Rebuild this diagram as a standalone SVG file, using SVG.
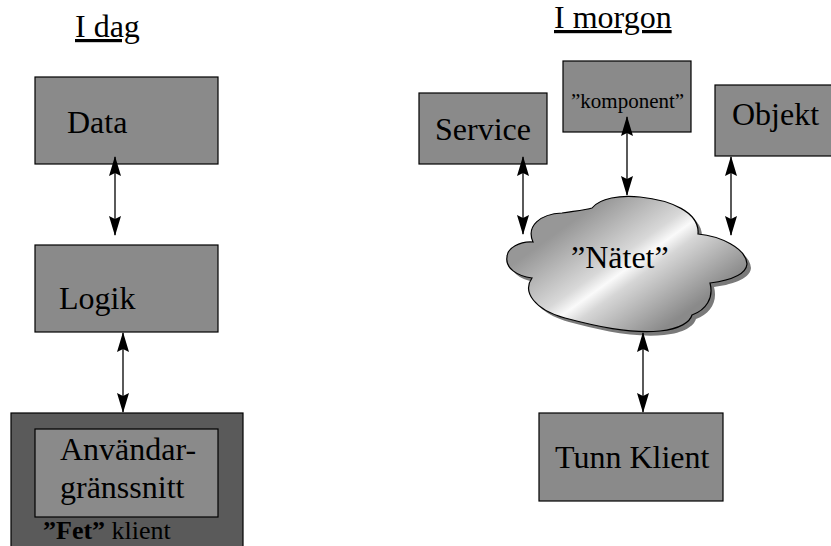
<svg xmlns="http://www.w3.org/2000/svg" width="831" height="546" viewBox="0 0 831 546">
  <defs>
    <style>
      .box { fill: #8a8a8a; stroke: #000; stroke-width: 1.2; }
      .dark { fill: #5a5a5a; stroke: #000; stroke-width: 1.2; }
      .t { font-family: 'Liberation Serif', Tinos, 'DejaVu Serif', serif; font-size: 32px; fill: #000; }
      .conn { stroke: #000; stroke-width: 1.3; fill: none; marker-start: url(#ah); marker-end: url(#ah); }
    </style>
    <marker id="ah" viewBox="0 0 20 12" refX="19" refY="6" markerWidth="20" markerHeight="12" markerUnits="userSpaceOnUse" orient="auto-start-reverse">
      <path d="M0,0 L20,6 L0,12 L3,6 Z" fill="#000"/>
    </marker>
    <linearGradient id="cg" gradientUnits="userSpaceOnUse" x1="584" y1="213" x2="666" y2="327">
      <stop offset="0" stop-color="#979797"/>
      <stop offset="0.4" stop-color="#d8d8d8"/>
      <stop offset="0.5" stop-color="#fafafa"/>
      <stop offset="0.6" stop-color="#d6d6d6"/>
      <stop offset="1" stop-color="#8a8a8a"/>
    </linearGradient>
    <path id="cloud" d="M 507,257 C 507,248 520,241 533,242 C 526,226 540,214 562,213 C 575,211 586,210 592,208 C 600,198 620,195 640,197 C 670,200 700,212 698,234 C 720,236 746,248 747,264 C 746,276 725,281 710,283 C 714,298 706,310 692,315 C 690,322 680,329 660,331 C 630,334 595,326 565,318 C 535,310 522,292 532,278 C 517,276 505,268 507,257 Z"/>
  </defs>
  <rect width="831" height="546" fill="#fff"/>

  <g id="title-idag">
    <text class="t" x="75" y="37" text-decoration="underline">I dag</text>
  </g>
  <g id="title-imorgon">
    <text class="t" x="554" y="28" text-decoration="underline">I morgon</text>
  </g>

  <g id="data">
    <rect class="box" x="35" y="77" width="183" height="87"/>
    <text class="t" x="67" y="133">Data</text>
  </g>
  <g id="logik">
    <rect class="box" x="35" y="245" width="183" height="87"/>
    <text class="t" x="59" y="309">Logik</text>
  </g>
  <g id="fet-klient">
    <rect class="dark" x="11" y="413" width="232" height="150"/>
    <rect class="box" x="35" y="429" width="183" height="88"/>
    <text class="t" x="60" y="460">Användar-</text>
    <text class="t" x="60" y="498">gränssnitt</text>
    <text class="t" x="43" y="539" style="font-size:26px"><tspan font-weight="bold">”Fet”</tspan> klient</text>
  </g>

  <g id="service">
    <rect class="box" x="419" y="93" width="128" height="71"/>
    <text class="t" x="435" y="140">Service</text>
  </g>
  <g id="komponent">
    <rect class="box" x="563" y="61" width="128" height="71"/>
    <text class="t" x="571" y="108" style="font-size:21px">”komponent”</text>
  </g>
  <g id="objekt">
    <rect class="box" x="715" y="85" width="120" height="71"/>
    <text class="t" x="732" y="125">Objekt</text>
  </g>

  <g id="natet">
    <use href="#cloud" transform="translate(4,4)" fill="#7a7a7a"/>
    <use href="#cloud" fill="url(#cg)" stroke="#000" stroke-width="1.2"/>
    <text class="t" x="571" y="268">”Nätet”</text>
  </g>

  <g id="tunn-klient">
    <rect class="box" x="539" y="413" width="184" height="88"/>
    <text class="t" x="555" y="468">Tunn Klient</text>
  </g>

  <g id="connectors">
    <line class="conn" x1="115" y1="157" x2="115" y2="235"/>
    <line class="conn" x1="123" y1="333" x2="123" y2="412"/>
    <line class="conn" x1="523" y1="157" x2="523" y2="234"/>
    <line class="conn" x1="627" y1="117" x2="627" y2="195"/>
    <line class="conn" x1="731" y1="157" x2="731" y2="235"/>
    <line class="conn" x1="643" y1="333" x2="643" y2="412"/>
  </g>
</svg>
